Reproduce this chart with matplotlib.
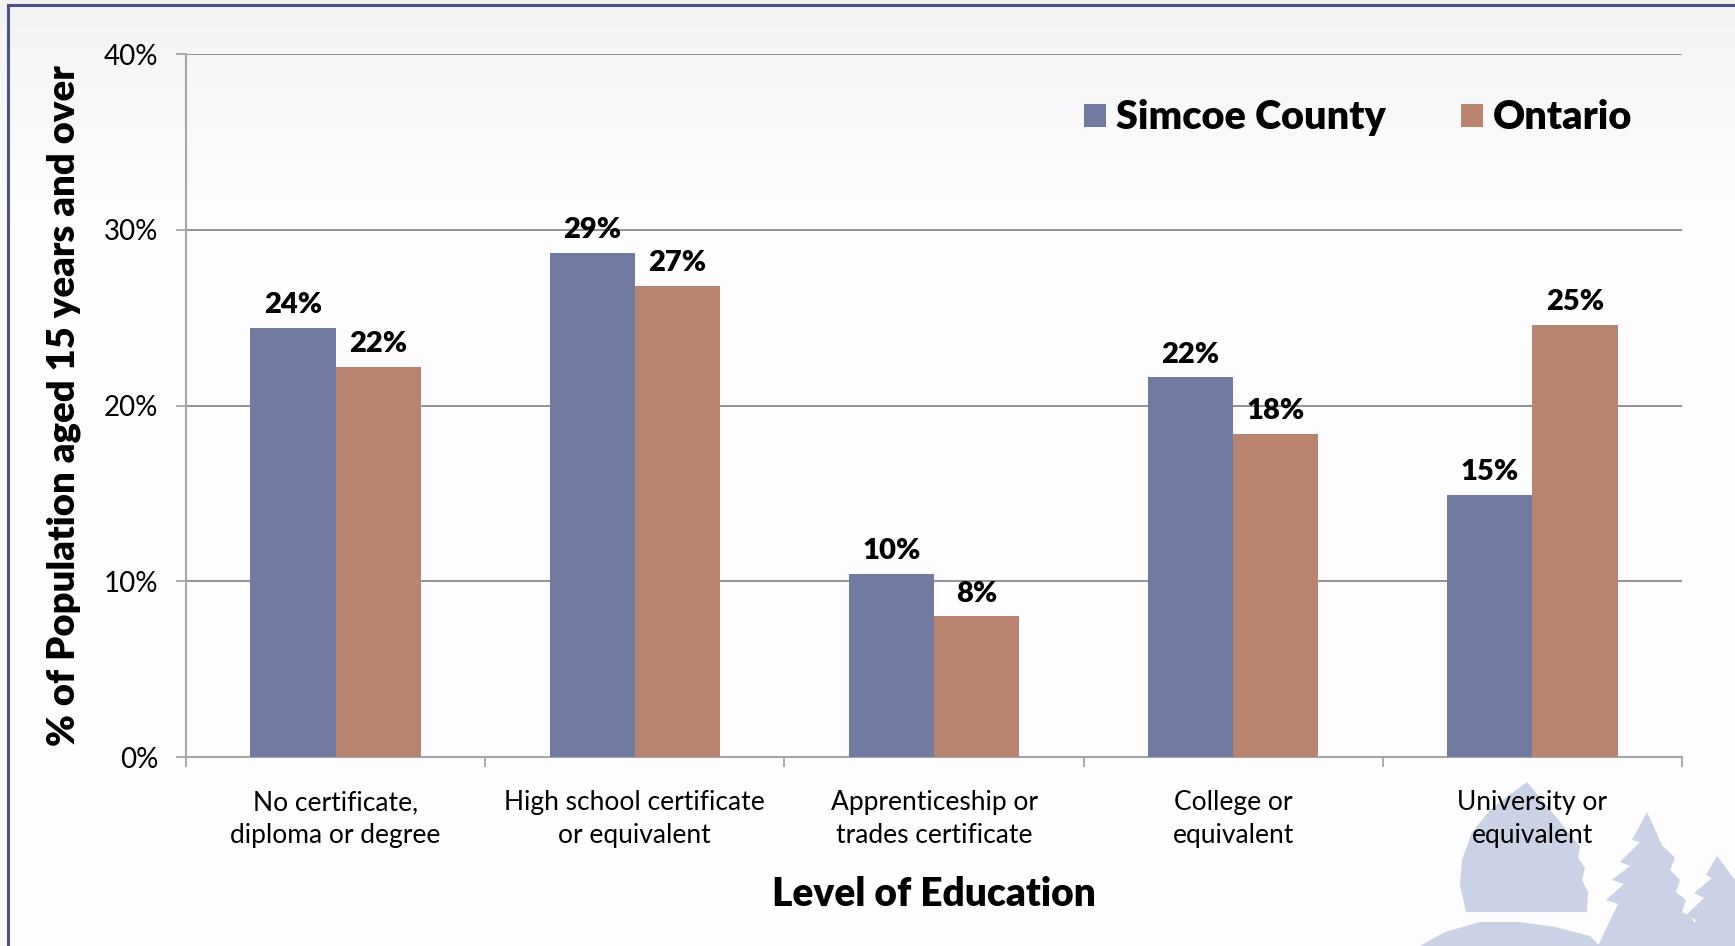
"""
bar chart: highest level of education, Simcoe County vs Ontario
"""

#%% import modules

import numpy as np
import matplotlib.pyplot as plt
import matplotlib as mpl
from matplotlib.lines import Line2D
from matplotlib.patches import Polygon

#%% global plot settings

mpl.rcParams.update(mpl.rcParamsDefault)
plt.rc('font', **{'family': ['Lato', 'DejaVu Sans'], 'size': 20})

#%% data

categories = ['No certificate,\ndiploma or degree',
              'High school certificate\nor equivalent',
              'Apprenticeship or\ntrades certificate',
              'College or\nequivalent',
              'University or\nequivalent']
simcoe = [24.4, 28.7, 10.4, 21.6, 14.9]
ontario = [22.2, 26.8, 8.0, 18.4, 24.6]
series_names = ['Simcoe County', 'Ontario']
yticks = [0, 10, 20, 30, 40]

#%% colours

col_simcoe = '#717BA1'
col_ontario = '#B8846F'
col_grid = '#8A8A8A'
col_spine = '#A6A6A6'
col_border = '#4D5383'
col_logo = '#CBD2E5'

#%% figure and background

fig = plt.figure(figsize=(17.35, 9.46), dpi=100)

# light gradient at the top of the slide
bg = fig.add_axes([0, 0, 1, 1], zorder=-10)
grad = np.ones((946, 2))
top = np.linspace(0.955, 1.0, 220)
grad[:220, :] = top[:, None]
bg.imshow(np.dstack([grad * 0.994, grad * 0.996, grad * 1.0]).clip(0, 1),
          aspect='auto', extent=[0, 1, 0, 1], origin='upper')
bg.set_xlim(0, 1)
bg.set_ylim(0, 1)
bg.axis('off')

# faint logo (sail + trees) bottom right, figure pixel coords
W, H = 1735.0, 946.0
def px(pts):
    return [(x / W, 1 - y / H) for x, y in pts]

sail = [(1527, 782), (1553, 813), (1580, 847), (1578, 858), (1585, 868),
        (1582, 880), (1588, 892), (1587, 912), (1466, 912), (1460, 885),
        (1462, 860), (1472, 832), (1492, 808)]
hull = [(1420, 946), (1445, 932), (1480, 922), (1520, 922), (1555, 927),
        (1590, 936), (1600, 946)]
tree1 = [(1647, 812), (1632, 840), (1640, 842), (1620, 862), (1630, 866),
         (1612, 880), (1624, 884), (1606, 900), (1618, 904), (1598, 946),
         (1712, 946), (1700, 937), (1692, 918), (1682, 912), (1686, 900),
         (1676, 892), (1680, 880), (1670, 870), (1675, 858), (1662, 845)]
tree2 = [(1717, 856), (1706, 875), (1712, 878), (1694, 893), (1704, 898),
         (1686, 915), (1696, 920), (1680, 946), (1735, 946), (1735, 880)]
for shape in [sail, hull, tree1, tree2]:
    bg.add_patch(Polygon(px(shape), closed=True, facecolor=col_logo,
                         edgecolor='none', transform=fig.transFigure))

# slide border
fig.add_artist(Line2D([8 / W, 1.01], [1 - 5 / H, 1 - 5 / H],
                      color=col_border, lw=2.2, transform=fig.transFigure))
fig.add_artist(Line2D([8 / W, 8 / W], [-0.01, 1 - 5 / H],
                      color=col_border, lw=2.2, transform=fig.transFigure))

#%% plot results

ax = fig.add_axes([186 / W, 1 - 757 / H, (1682 - 186) / W, (757 - 54) / H])
ax.set_facecolor('none')

x = np.arange(len(categories))
w = 0.285

b1 = ax.bar(x - w / 2, simcoe, w, color=col_simcoe, zorder=3,
            label=series_names[0])
b2 = ax.bar(x + w / 2, ontario, w, color=col_ontario, zorder=3,
            label=series_names[1])

# value labels
for bars, vals in [(b1, simcoe), (b2, ontario)]:
    for rect, v in zip(bars, vals):
        ax.annotate('%d%%' % round(v),
                    (rect.get_x() + rect.get_width() / 2, v),
                    xytext=(0, 7), textcoords='offset points',
                    ha='center', va='bottom', fontsize=21,
                    fontweight='heavy', zorder=4)

#------------------------------------------------------------------------------
# plot settings

# axes
ax.set_xlim(-0.5, len(categories) - 0.5)
ax.set_ylim(0, 40)
ax.set_yticks(yticks)
ax.set_yticklabels(['%d%%' % t for t in yticks], fontsize=20)
ax.set_xticks(x)
ax.set_xticklabels(categories, fontsize=19, linespacing=1.4)
ax.set_xticks(np.arange(-0.5, len(categories)), minor=True)

ax.tick_params(axis='x', which='major', length=0, pad=24)
ax.tick_params(axis='x', which='minor', length=7, width=1.3,
               color=col_spine, direction='out')
ax.tick_params(axis='y', length=7, width=1.3, color=col_spine,
               direction='out', pad=13)

for t in yticks[1:]:
    ax.axhline(t, color=col_grid, lw=1.3, zorder=1)

for side in ['top', 'right']:
    ax.spines[side].set_visible(False)
for side in ['left', 'bottom']:
    ax.spines[side].set_color(col_spine)
    ax.spines[side].set_linewidth(1.5)

# axis labels and legend
ax.set_xlabel('Level of Education', fontsize=28, fontweight='heavy',
              labelpad=20)
ax.set_ylabel('% of Population aged 15 years and over', fontsize=27.5,
              fontweight='heavy', labelpad=16)
ax.legend(frameon=False, ncol=2, loc='center right',
          bbox_to_anchor=(0.98, 0.909),
          prop={'size': 28.5, 'weight': 'heavy'},
          handlelength=0.55, handleheight=0.55, handletextpad=0.25,
          columnspacing=1.9, borderpad=0)

#------------------------------------------------------------------------------
# save plot

fig.savefig('out.png', dpi=100)
